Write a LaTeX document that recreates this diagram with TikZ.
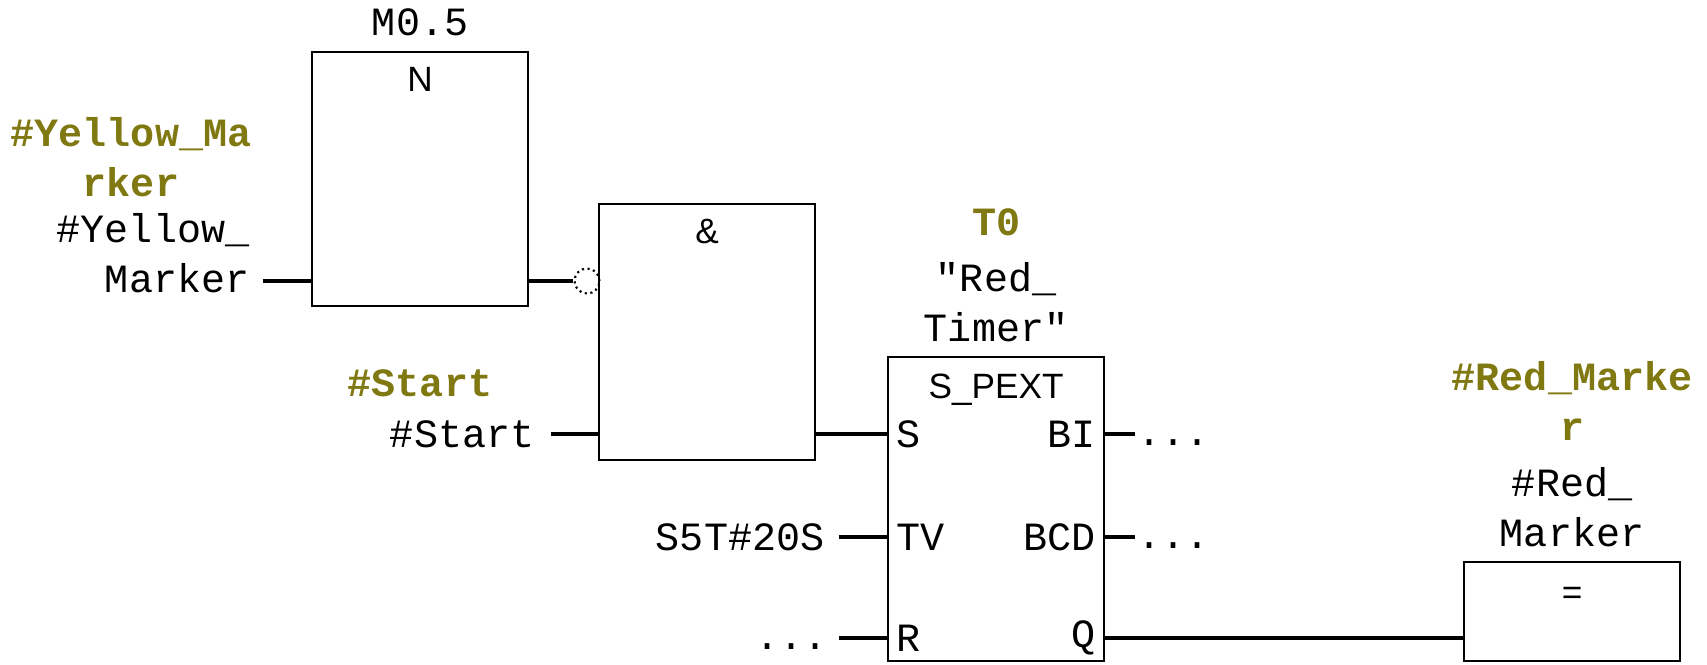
\documentclass[tikz,border=0pt]{standalone}
\usepackage{fontspec}
\setmonofont{Liberation Mono}
\setsansfont{Liberation Sans}
\usetikzlibrary{positioning}
\definecolor{symcol}{RGB}{128,120,16}
\newcommand{\fbdfont}{\fontsize{11.4}{14.2}\selectfont\ttfamily}

\begin{document}
\begin{tikzpicture}[x=0.01cm, y=-0.01cm,
		blk/.style={draw, line width=0.6pt, minimum width=2.16cm, inner sep=0pt, outer sep=0pt, anchor=north west},
		wire/.style={line width=1.4pt},
		txt/.style={font=\fbdfont, inner sep=0pt},
		sym/.style={font=\fbdfont\bfseries, text=symcol, inner sep=0pt},
		op/.style={font=\fontsize{10}{12}\selectfont\sffamily, inner sep=0pt},
		neg/.style={draw, densely dotted, circle, minimum size=0.25cm, inner sep=0pt, line width=0.6pt}]
		\useasboundingbox (0,0) rectangle (1707,664);
		\fill[white] (0,0) rectangle (1707,664);

		% blocchi
		\node[blk, minimum height=2.54cm] (flank) at (312,52) {};
		\node[txt, above=0.15cm of flank.north] (flankaddr) {M0.5};
		\node[op, below=0.15cm of flank.north] (flankop) {N};
		\node[blk, minimum height=2.56cm] (andgate) at (599,204) {};
		\node[op, below=0.14cm of andgate.north] (andop) {\&};
		\node[blk, minimum height=3.04cm] (timer) at (888,357) {};
		\node[op, below=0.16cm of timer.north] (timerop) {S\_PEXT};
		\node[txt, align=center, above=0.14cm of timer.north] (timername) {"Red\_\\Timer"};
		\node[sym, above=0.26cm of timername] (timeraddr) {T0};
		\node[blk, minimum height=0.99cm] (coil) at (1464,562) {};
		\node[op, below=0.25cm of coil.north] (coilop) {=};
		\node[txt, align=center, above=0.14cm of coil.north] (coilname) {\#Red\_\\Marker};
		\node[sym, align=center, above=0.26cm of coilname] (coilsym) {\#Red\_Marke\\r};

		% ingressi
		\coordinate (yin) at (263,281);
		\node[txt, align=right, anchor=south east] (yinlbl) at (250,294) {\#Yellow\_\\Marker};
		\node[sym, align=center] (yinsym) at (131,157) {\#Yellow\_Ma\\rker};
		\node[neg] (negin) at (587,281) {};
		\coordinate (startend) at (551,434);
		\node[txt, left=0.16cm of startend] (startlbl) {\#Start};
		\node[sym] (startsym) at (420,383) {\#Start};
		\coordinate (tvend) at (839,537);
		\node[txt, left=0.14cm of tvend] (tvlbl) {S5T\#20S};
		\coordinate (rend) at (839,638);
		\node[txt, anchor=base east] (rdots) at (828,649) {...};

		% pin del timer
		\coordinate (tS) at (timer.west |- startend);
		\coordinate (tTV) at (timer.west |- tvend);
		\coordinate (tR) at (timer.west |- rend);
		\coordinate (tBI) at (timer.east |- startend);
		\coordinate (tBCD) at (timer.east |- tvend);
		\coordinate (tQ) at (timer.east |- rend);
		\node[txt, right=0.08cm of tS] (pinS) {S};
		\node[txt, right=0.08cm of tTV] (pinTV) {TV};
		\node[txt, right=0.08cm of tR] (pinR) {R};
		\node[txt, left=0.08cm of tBI] (pinBI) {BI};
		\node[txt, left=0.08cm of tBCD] (pinBCD) {BCD};
		\node[txt, left=0.08cm of tQ] (pinQ) {Q};
		\coordinate (biend) at (1135,434);
		\coordinate (bcdend) at (1135,537);
		\node[txt, anchor=base west] (bidots) at (1137,445) {...};
		\node[txt, anchor=base west] (bcddots) at (1137,548) {...};

		% collegamenti
		\draw[wire] (yin) -- (flank.west |- yin);
		\draw[wire] (flank.east |- negin) -- (negin.west);
		\draw[wire] (startend) -- (andgate.west |- startend);
		\draw[wire] (andgate.east |- tS) -- (tS);
		\draw[wire] (tvend) -- (tTV);
		\draw[wire] (rend) -- (tR);
		\draw[wire] (tBI) -- (biend);
		\draw[wire] (tBCD) -- (bcdend);
		\draw[wire] (tQ) -- (coil.west |- tQ); % uscita Q sulla bobina
	\end{tikzpicture}
\end{document}
